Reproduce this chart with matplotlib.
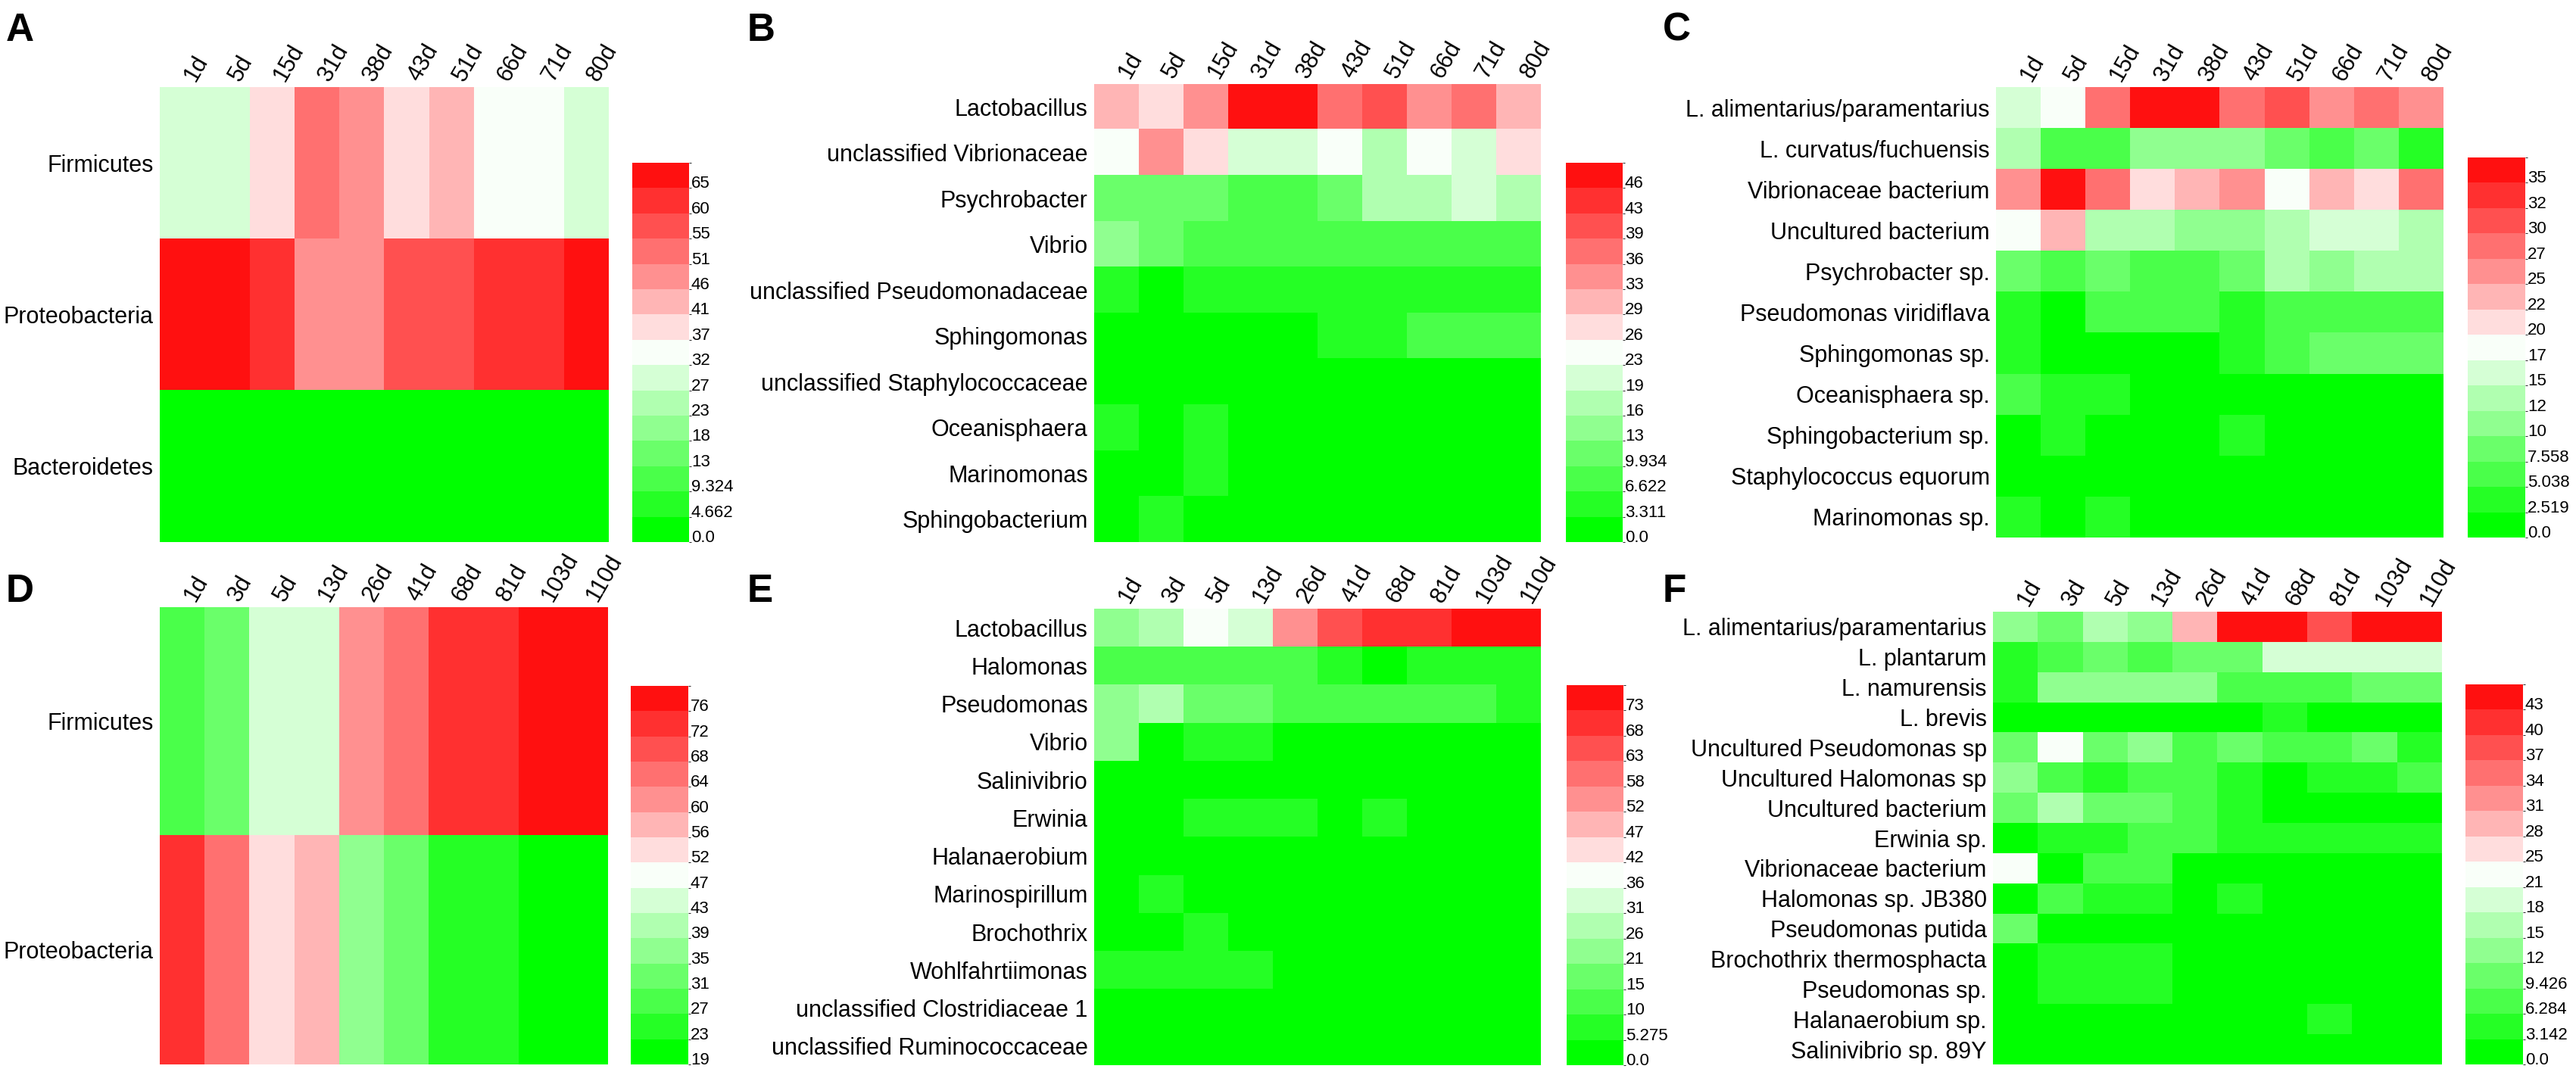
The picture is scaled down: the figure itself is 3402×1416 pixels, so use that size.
import matplotlib
matplotlib.use("Agg")
import matplotlib.pyplot as plt
import numpy as np
from matplotlib.colors import ListedColormap, BoundaryNorm
from matplotlib.cm import ScalarMappable
from matplotlib.transforms import offset_copy

plt.rcParams['font.family'] = ['Liberation Sans', 'DejaVu Sans']

W, H = 3402, 1416

# 15 step palette, green (low) -> white -> red (high)
level_colors = ['#00ff00', '#25ff25', '#4aff4a', '#6aff6a', '#90ff90', '#b0ffb0', '#d5ffd5', '#f9fff9',
                '#ffdddd', '#ffb5b5', '#ff9090', '#ff7070', '#ff5050', '#ff3030', '#ff1010']
cmap = ListedColormap(level_colors)

# ---- panel A: phylum, batch 1
a_days = ['1d', '5d', '15d', '31d', '38d', '43d', '51d', '66d', '71d', '80d']
a_taxa = ['Firmicutes', 'Proteobacteria', 'Bacteroidetes']
a_firmicutes = [30.1, 29.5, 39.2, 53.5, 48.7, 38.9, 44.1, 34.6, 34.9, 30.4]
a_proteobacteria = [67.3, 66.8, 62.9, 48.5, 48.9, 58.2, 57.6, 63.1, 62.4, 68.0]
a_bacteroidetes = [1.2, 0.9, 1.1, 0.8, 1.0, 1.3, 0.9, 0.8, 1.1, 0.7]
a_range = (0.0, 69.93)
a_cbar = ['0.0', '4.662', '9.324', '13', '18', '23', '27', '32', '37', '41', '46', '51', '55', '60', '65']

# ---- panel B: genus, batch 1
b_days = a_days
b_taxa = ['Lactobacillus', 'unclassified Vibrionaceae', 'Psychrobacter', 'Vibrio',
          'unclassified Pseudomonadaceae', 'Sphingomonas', 'unclassified Staphylococcaceae',
          'Oceanisphaera', 'Marinomonas', 'Sphingobacterium']
b_lactobacillus = [31.5, 28.1, 34.8, 48.0, 48.0, 38.1, 41.4, 34.8, 38.1, 31.5]
b_vibrionaceae = [24.8, 34.8, 28.1, 21.5, 21.5, 24.8, 18.2, 24.8, 21.5, 28.1]
b_psychrobacter = [11.6, 11.6, 11.6, 8.3, 8.3, 11.6, 18.2, 18.2, 21.5, 18.2]
b_vibrio = [14.9, 11.6, 8.3, 8.3, 8.3, 8.3, 8.3, 8.3, 8.3, 8.3]
b_pseudomonadaceae = [5.0, 1.7, 5.0, 5.0, 5.0, 5.0, 5.0, 5.0, 5.0, 5.0]
b_sphingomonas = [1.7, 1.5, 1.6, 1.4, 1.6, 5.0, 5.0, 8.3, 8.3, 8.3]
b_staphylococcaceae = [1.2, 1.1, 1.3, 1.0, 0.9, 1.2, 1.0, 0.8, 1.1, 0.9]
b_oceanisphaera = [5.0, 1.6, 5.0, 1.5, 1.4, 1.2, 1.0, 0.9, 0.8, 0.8]
b_marinomonas = [1.6, 1.5, 5.0, 1.2, 1.1, 1.0, 0.9, 0.9, 0.8, 0.7]
b_sphingobacterium = [1.5, 5.0, 1.4, 1.1, 1.0, 0.9, 0.8, 0.8, 0.7, 0.7]
b_range = (0.0, 49.67)
b_cbar = ['0.0', '3.311', '6.622', '9.934', '13', '16', '19', '23', '26', '29', '33', '36', '39', '43', '46']

# ---- panel C: species, batch 1
c_days = a_days
c_taxa = ['L. alimentarius/paramentarius', 'L. curvatus/fuchuensis', 'Vibrionaceae bacterium',
          'Uncultured bacterium', 'Psychrobacter sp.', 'Pseudomonas viridiflava', 'Sphingomonas sp.',
          'Oceanisphaera sp.', 'Sphingobacterium sp.', 'Staphylococcus equorum', 'Marinomonas sp.']
c_alimentarius = [16.4, 18.9, 29.0, 36.5, 36.5, 29.0, 31.5, 26.4, 29.0, 26.4]
c_curvatus = [13.9, 6.3, 6.3, 11.3, 11.3, 11.3, 8.8, 6.3, 8.8, 3.8]
c_vibrionaceae = [26.4, 36.5, 29.0, 21.4, 23.9, 26.4, 18.9, 23.9, 21.4, 29.0]
c_uncultured = [18.9, 23.9, 13.9, 13.9, 11.3, 11.3, 13.9, 16.4, 16.4, 13.9]
c_psychrobacter = [8.8, 6.3, 8.8, 6.3, 6.3, 8.8, 13.9, 11.3, 13.9, 13.9]
c_viridiflava = [3.8, 1.3, 6.3, 6.3, 6.3, 3.8, 6.3, 6.3, 6.3, 6.3]
c_sphingomonas = [3.8, 1.3, 1.2, 1.1, 1.2, 3.8, 6.3, 8.8, 8.8, 8.8]
c_oceanisphaera = [6.3, 3.8, 3.8, 1.2, 1.1, 1.0, 0.9, 0.9, 0.8, 0.8]
c_sphingobacterium = [1.3, 3.8, 1.2, 1.1, 1.0, 3.8, 0.9, 0.8, 0.8, 0.7]
c_equorum = [1.1, 1.0, 1.2, 0.9, 0.8, 1.0, 0.9, 0.8, 0.7, 0.7]
c_marinomonas = [3.8, 1.2, 3.8, 1.0, 0.9, 0.9, 0.8, 0.8, 0.7, 0.7]
c_range = (0.0, 37.79)
c_cbar = ['0.0', '2.519', '5.038', '7.558', '10', '12', '15', '17', '20', '22', '25', '27', '30', '32', '35']

# ---- panel D: phylum, batch 2
d_days = ['1d', '3d', '5d', '13d', '26d', '41d', '68d', '81d', '103d', '110d']
d_taxa = ['Firmicutes', 'Proteobacteria']
d_firmicutes = [27.6, 33.8, 46.1, 45.7, 62.5, 66.2, 74.3, 74.8, 78.9, 79.6]
d_proteobacteria = [72.8, 66.0, 54.4, 58.0, 37.9, 33.5, 25.2, 25.6, 20.8, 20.1]
d_range = (19.25, 80.75)
d_cbar = ['19', '23', '27', '31', '35', '39', '43', '47', '52', '56', '60', '64', '68', '72', '76']

# ---- panel E: genus, batch 2
e_days = d_days
e_taxa = ['Lactobacillus', 'Halomonas', 'Pseudomonas', 'Vibrio', 'Salinivibrio', 'Erwinia',
          'Halanaerobium', 'Marinospirillum', 'Brochothrix', 'Wohlfahrtiimonas',
          'unclassified Clostridiaceae 1', 'unclassified Ruminococcaceae']
e_lactobacillus = [23.7, 29.0, 39.6, 34.3, 55.4, 65.9, 71.2, 71.2, 76.5, 76.5]
e_halomonas = [13.2, 13.2, 13.2, 13.2, 13.2, 7.9, 2.6, 7.9, 7.9, 7.9]
e_pseudomonas = [23.7, 29.0, 18.5, 18.5, 13.2, 13.2, 13.2, 13.2, 13.2, 7.9]
e_vibrio = [23.7, 2.6, 7.9, 7.9, 2.4, 2.2, 2.0, 1.8, 1.6, 1.5]
e_salinivibrio = [2.5, 2.4, 2.2, 2.0, 1.9, 1.7, 1.6, 1.5, 1.4, 1.3]
e_erwinia = [2.4, 2.2, 7.9, 7.9, 7.9, 2.0, 7.9, 1.8, 1.6, 1.5]
e_halanaerobium = [1.2, 1.3, 1.4, 1.5, 1.6, 1.8, 2.0, 2.2, 2.4, 2.5]
e_marinospirillum = [2.0, 7.9, 1.8, 1.6, 1.5, 1.4, 1.3, 1.2, 1.1, 1.0]
e_brochothrix = [2.1, 2.0, 7.9, 1.8, 1.6, 1.5, 1.4, 1.3, 1.2, 1.1]
e_wohlfahrtiimonas = [7.9, 7.9, 7.9, 7.9, 2.0, 1.8, 1.6, 1.4, 1.2, 1.0]
e_clostridiaceae = [1.0, 1.2, 1.4, 1.6, 1.8, 2.0, 2.2, 2.4, 2.5, 2.5]
e_ruminococcaceae = [0.8, 1.0, 1.1, 1.2, 1.4, 1.6, 1.8, 2.0, 2.2, 2.4]
e_range = (0.0, 79.13)
e_cbar = ['0.0', '5.275', '10', '15', '21', '26', '31', '36', '42', '47', '52', '58', '63', '68', '73']

# ---- panel F: species, batch 2
f_days = d_days
f_taxa = ['L. alimentarius/paramentarius', 'L. plantarum', 'L. namurensis', 'L. brevis',
          'Uncultured Pseudomonas sp', 'Uncultured Halomonas sp', 'Uncultured bacterium',
          'Erwinia sp.', 'Vibrionaceae bacterium', 'Halomonas sp. JB380', 'Pseudomonas putida',
          'Brochothrix thermosphacta', 'Pseudomonas sp.', 'Halanaerobium sp.', 'Salinivibrio sp. 89Y']
f_alimentarius = [14.1, 11.0, 17.3, 14.1, 29.9, 45.6, 45.6, 39.3, 45.6, 45.6]
f_plantarum = [4.7, 7.9, 11.0, 7.9, 11.0, 11.0, 20.4, 20.4, 20.4, 20.4]
f_namurensis = [4.7, 14.1, 14.1, 14.1, 14.1, 7.9, 7.9, 7.9, 11.0, 11.0]
f_brevis = [1.5, 1.4, 1.3, 1.2, 1.2, 1.3, 4.7, 1.4, 1.3, 1.2]
f_unc_pseudomonas = [11.0, 23.6, 11.0, 14.1, 7.9, 11.0, 7.9, 7.9, 11.0, 4.7]
f_unc_halomonas = [14.1, 7.9, 4.7, 7.9, 7.9, 4.7, 1.6, 4.7, 4.7, 7.9]
f_unc_bacterium = [11.0, 17.3, 11.0, 11.0, 7.9, 4.7, 1.5, 1.4, 1.4, 1.3]
f_erwinia = [1.5, 4.7, 4.7, 7.9, 7.9, 4.7, 4.7, 4.7, 4.7, 4.7]
f_vibrionaceae = [23.6, 1.5, 7.9, 7.9, 1.4, 1.3, 1.2, 1.1, 1.0, 1.0]
f_jb380 = [1.5, 7.9, 4.7, 4.7, 1.4, 4.7, 1.2, 1.1, 1.0, 1.0]
f_putida = [11.0, 1.5, 1.4, 1.3, 1.2, 1.1, 1.0, 0.9, 0.9, 0.8]
f_brochothrix = [1.5, 4.7, 4.7, 4.7, 1.3, 1.2, 1.1, 1.0, 0.9, 0.8]
f_pseudomonas = [1.4, 4.7, 4.7, 4.7, 1.2, 1.1, 1.0, 0.9, 0.8, 0.8]
f_halanaerobium = [1.2, 1.1, 1.0, 0.9, 0.9, 0.8, 0.8, 4.7, 0.7, 0.7]
f_salinivibrio = [1.0, 0.9, 0.9, 0.8, 0.8, 0.7, 0.7, 0.6, 0.6, 0.6]
f_range = (0.0, 47.13)
f_cbar = ['0.0', '3.142', '6.284', '9.426', '12', '15', '18', '21', '25', '28', '31', '34', '37', '40', '43']


def frac_box(x0, y0, x1, y1):
    return [x0 / W, 1 - y1 / H, (x1 - x0) / W, (y1 - y0) / H]


fig = plt.figure(figsize=(W / 100, H / 100), dpi=100)


def draw_panel(letter, letter_xy, box, cbox, days, taxa, rows, vrange, cbar_labels):
    values = np.array(rows)
    bounds = np.linspace(vrange[0], vrange[1], len(level_colors) + 1)
    norm = BoundaryNorm(bounds, cmap.N)

    ax = fig.add_axes(frac_box(*box))
    ax.imshow(values, cmap=cmap, norm=norm, aspect='auto', interpolation='nearest')
    for s in ax.spines.values():
        s.set_visible(False)
    ax.set_xticks([])
    ax.set_yticks(range(len(taxa)))
    ax.set_yticklabels(taxa, fontsize=22)
    ax.tick_params(axis='y', length=0, pad=6)

    trans = offset_copy(ax.get_xaxis_transform(), fig=fig, x=7, y=7, units='points')
    for i, d in enumerate(days):
        ax.text(i, 1.0, d, transform=trans, rotation=60, ha='left', va='center',
                rotation_mode='anchor', fontsize=22)

    cax = fig.add_axes(frac_box(*cbox))
    sm = ScalarMappable(norm=norm, cmap=cmap)
    step = bounds[1] - bounds[0]
    cb = fig.colorbar(sm, cax=cax, boundaries=bounds, ticks=bounds[:-1] + 0.24 * step)
    cb.set_ticklabels(cbar_labels)
    cb.outline.set_visible(False)
    cax.tick_params(length=0, pad=2, labelsize=16)

    fig.text(letter_xy[0] / W, 1 - letter_xy[1] / H, letter, fontsize=37, fontweight='bold',
             ha='left', va='baseline')


draw_panel('A', (8, 54), (211, 115, 803, 716), (835, 215, 910, 716), a_days, a_taxa,
           [a_firmicutes, a_proteobacteria, a_bacteroidetes], a_range, a_cbar)

draw_panel('B', (987, 54), (1445, 111, 2035, 716), (2068, 215, 2143, 716), b_days, b_taxa,
           [b_lactobacillus, b_vibrionaceae, b_psychrobacter, b_vibrio, b_pseudomonadaceae,
            b_sphingomonas, b_staphylococcaceae, b_oceanisphaera, b_marinomonas, b_sphingobacterium],
           b_range, b_cbar)

draw_panel('C', (2196, 54), (2636, 115, 3227, 710), (3259, 208, 3335, 710), c_days, c_taxa,
           [c_alimentarius, c_curvatus, c_vibrionaceae, c_uncultured, c_psychrobacter, c_viridiflava,
            c_sphingomonas, c_oceanisphaera, c_sphingobacterium, c_equorum, c_marinomonas],
           c_range, c_cbar)

draw_panel('D', (8, 795), (211, 802, 802, 1406), (833, 906, 909, 1406), d_days, d_taxa,
           [d_firmicutes, d_proteobacteria], d_range, d_cbar)

draw_panel('E', (987, 795), (1445, 804, 2035, 1407), (2069, 905, 2144, 1407), e_days, e_taxa,
           [e_lactobacillus, e_halomonas, e_pseudomonas, e_vibrio, e_salinivibrio, e_erwinia,
            e_halanaerobium, e_marinospirillum, e_brochothrix, e_wohlfahrtiimonas,
            e_clostridiaceae, e_ruminococcaceae], e_range, e_cbar)

draw_panel('F', (2196, 795), (2632, 808, 3224, 1406), (3256, 904, 3332, 1406), f_days, f_taxa,
           [f_alimentarius, f_plantarum, f_namurensis, f_brevis, f_unc_pseudomonas, f_unc_halomonas,
            f_unc_bacterium, f_erwinia, f_vibrionaceae, f_jb380, f_putida, f_brochothrix,
            f_pseudomonas, f_halanaerobium, f_salinivibrio], f_range, f_cbar)

fig.savefig('out.png', dpi=100)
